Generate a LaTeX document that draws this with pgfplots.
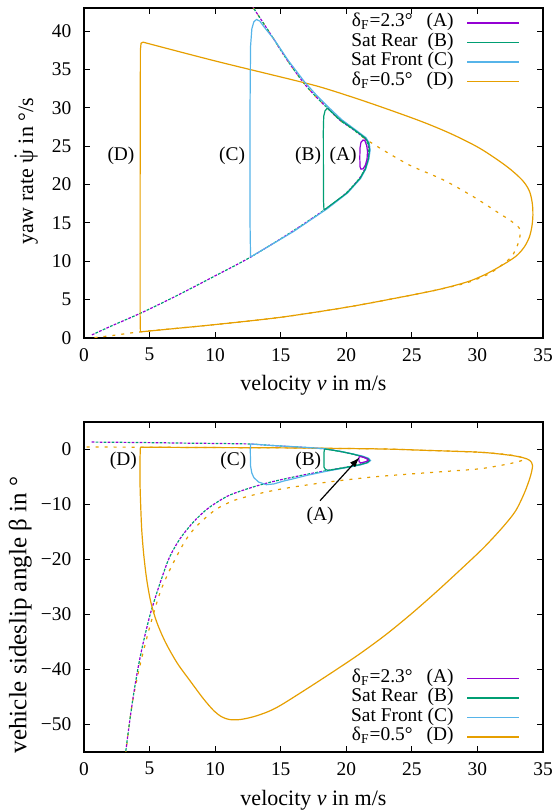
\documentclass[border=0pt]{standalone}
\usepackage{fontspec}
\setmainfont{Liberation Serif}
\usepackage{amsmath}
\usepackage{pgfplots}
\pgfplotsset{compat=1.18}
\usetikzlibrary{arrows.meta}

\definecolor{cA}{RGB}{148,0,211}
\definecolor{cB}{RGB}{0,158,115}
\definecolor{cC}{RGB}{86,180,233}
\definecolor{cD}{RGB}{230,159,0}

\pgfplotsset{
  gp/.style={
    scale only axis, width=229.5pt, height=165pt,
    xmin=0, xmax=35, xtick={0,5,...,35},
    axis line style={line width=1pt},
    every tick/.style={black, line width=0.5pt},
    major tick length=2.8pt,
    tick align=inside, xtick pos=both, ytick pos=both,
    /pgf/number format/assume math mode=true,
    font=\fontsize{9.7}{11.6}\selectfont,
    xticklabel style={yshift=-1.6pt},
    yticklabel style={xshift=-2.8pt},
    xlabel={velocity \textit{v} in m/s},
    label style={font=\fontsize{11}{13}\selectfont},
    legend cell align=right, legend plot pos=right,
    legend image code/.code={\draw[#1, line width=0.75pt] (0pt,0pt) -- (26pt,0pt);},
    legend style={draw=none, fill=none, inner sep=0pt, outer sep=0pt,
      column sep=6.5pt,
      nodes={inner sep=0pt, text height=6.8pt, text depth=2.95pt}},
  },
  dA/.style={cA, line width=0.6pt, dash pattern=on 1.4pt off 2.6pt},
  dB/.style={cB, line width=0.6pt, dash pattern=on 1.4pt off 2.6pt, dash phase=2pt},
  dD/.style={cD, line width=0.6pt, dash pattern=on 1.5pt off 3pt},
  sA/.style={cA, line width=0.6pt},
  sB/.style={cB, line width=0.6pt},
  sC/.style={cC, line width=0.6pt},
  sD/.style={cD, line width=0.6pt},
}

\begin{document}
\begin{tikzpicture}
\useasboundingbox (-42pt,-30pt) rectangle (235.5pt,376pt);

% ---------------- yaw rate ----------------
\begin{axis}[gp, at={(0,207pt)}, anchor=south west,
    ymin=0, ymax=43, ytick={0,5,...,40},
    ylabel={yaw rate $\dot{\text{ψ}}$ in °/s},
    ylabel style={at={(axis description cs:-0.126,0.506)}, anchor=center},
    xlabel style={at={(axis description cs:0.5,-0.142)}, anchor=center},
    legend style={at={(axis description cs:0.95,0.984)}, anchor=north east},
  ]
\addlegendimage{sA}\addlegendentry{δ\textsubscript{F}=2.3°\hspace{7pt}(A)}
\addlegendimage{sB}\addlegendentry{Sat Rear\hspace{5pt}(B)}
\addlegendimage{sC}\addlegendentry{Sat Front (C)}
\addlegendimage{sD}\addlegendentry{δ\textsubscript{F}=0.5°\hspace{7pt}(D)}

\addplot[dD, smooth, forget plot] coordinates {
 (0.8,0.05) (2.5,0.4) (4.3,0.8) (10,1.75) (15,2.7) (20,4.0) (24.1,5.3) (27,6.3)
 (29.2,7.2) (30.8,8.3) (31.7,9.3) (32.6,10.6) (33.1,12.3) (33.26,14.1) (32.6,15.2)
 (31.7,16.2) (29.7,18.4) (27.4,20.6) (25.1,22.3) (24.1,23.2) (22.7,24.6) (21.4,26.0)
 (20.5,27.2) (19.5,28.4) (18.6,29.9) (17.6,31.6) (16.7,33.35) (15.5,36.2) (14.3,39.4)
 (13.0,42.8) (12.92,43.0)};
\addplot[dB, smooth, forget plot] coordinates {
 (0.6,0.4) (2,1.5) (4.4,3.3) (7,5.45) (10,8.1) (12.66,10.5) (15.9,13.9) (18.5,16.9)
 (20,18.9) (21.0,20.8) (21.4,22.0) (21.65,23.3) (21.72,24.5) (21.6,25.4) (21.4,26.0)
 (20.5,27.2) (19.5,28.4) (18.6,29.9) (17.6,31.6) (16.7,33.35) (15.5,36.2) (14.3,39.4)
 (13.0,42.8) (12.92,43.0)};
\addplot[dA, smooth, forget plot] coordinates {
 (0.6,0.4) (2,1.5) (4.4,3.3) (7,5.45) (10,8.1) (12.66,10.5) (15.9,13.9) (18.5,16.9)
 (20,18.9) (21.0,20.8) (21.4,22.0) (21.65,23.3) (21.72,24.5) (21.6,25.4) (21.4,26.0)
 (20.5,27.2) (19.5,28.4) (18.6,29.9) (17.6,31.6) (16.7,33.35) (15.5,36.2) (14.3,39.4)
 (13.0,42.8) (12.92,43.0)};
\addplot[sD, forget plot] coordinates {
 (4.3,0.8) (4.28,3) (4.28,20) (4.3,37.5) (4.35,38.4) (4.5,38.55)};
\addplot[sD, smooth, forget plot] coordinates {
 (4.5,38.55) (10,36.1) (16.7,33.3)
 (18.8,32.3) (22,30.5) (25.6,28.3) (28,26.6) (30.2,24.7) (32.2,22.4) (33.4,20.6)
 (33.95,19.2) (34.18,17.6) (34.23,16.0) (34.15,14.5) (33.95,13.1) (33.55,11.8)
 (32.9,10.6) (31.7,9.3) (30.5,8.2) (29.2,7.3) (27,6.3) (24.1,5.3)
 (20,4.0) (15,2.7) (10,1.75) (4.3,0.8)};
\addplot[sC, forget plot] coordinates {
 (12.7,10.55) (12.66,15) (12.66,30) (12.7,38) (12.8,40.3) (12.95,41.2) (13.15,41.5)
 (13.4,41.3) (13.7,40.6) (14.5,38.9) (15.6,36.1) (16.85,33.3) (17.8,31.5) (18.75,29.9)
 (19.65,28.45) (20.6,27.25) (21.5,26.1) (21.75,25.4) (21.82,24.5) (21.72,23.3)
 (21.48,22.0) (21.1,20.8) (20.1,18.9) (18.55,16.85) (15.95,13.85) (12.7,10.55)};
\addplot[sB, forget plot] coordinates {
 (18.3,16.67) (18.26,18) (18.25,27) (18.28,28.9) (18.38,29.6) (18.55,29.95)
 (19.55,28.4) (20.55,27.2) (21.45,26.05) (21.7,25.4) (21.77,24.5) (21.68,23.3)
 (21.45,22.0) (21.05,20.8) (20.05,18.9) (18.3,16.67)};
\addplot[sA, forget plot] coordinates {
 (21.05,22.3) (21.03,23.5) (21.05,24.8) (21.12,25.5) (21.28,25.8) (21.42,25.7)
 (21.55,25.1) (21.62,24.3) (21.58,23.3) (21.45,22.5) (21.28,22.05) (21.12,22.0)
 (21.05,22.3)};

\node at (axis cs:2.82,23.8) {(D)};
\node at (axis cs:11.29,23.8) {(C)};
\node at (axis cs:17.09,23.8) {(B)};
\node at (axis cs:19.76,23.8) {(A)};
\end{axis}

% ---------------- sideslip ----------------
\begin{axis}[gp, at={(0,0)}, anchor=south west,
    ymin=-55, ymax=5, ytick={-50,-40,...,0},
    yticklabels={−50,−40,−30,−20,−10,0},
    ylabel={vehicle sideslip angle β in °},
    ylabel style={at={(axis description cs:-0.139,0.415)}, anchor=center,
      font=\fontsize{12.5}{14}\selectfont},
    xlabel style={at={(axis description cs:0.5,-0.145)}, anchor=center},
    legend style={at={(axis description cs:0.95,0.016)}, anchor=south east},
  ]
\addlegendimage{sA}\addlegendentry{δ\textsubscript{F}=2.3°\hspace{7pt}(A)}
\addlegendimage{sB}\addlegendentry{Sat Rear\hspace{5pt}(B)}
\addlegendimage{sC}\addlegendentry{Sat Front (C)}
\addlegendimage{sD}\addlegendentry{δ\textsubscript{F}=0.5°\hspace{7pt}(D)}

\addplot[dD, smooth, forget plot] coordinates {
 (0.2,0.45) (4.3,0.42) (10,0.35) (15,0.3) (19,0.2) (22.6,0.1) (26,-0.15) (28.5,-0.35)
 (30.2,-0.5) (31.8,-0.8) (32.8,-1.1) (33.4,-1.45) (33.55,-1.8) (33.2,-2.15) (32.2,-2.7)
 (30.2,-3.5) (27.5,-4.0) (24.9,-4.45) (22,-5.0) (19,-5.8) (17,-6.45) (15,-7.2)
 (13.2,-8.1) (11.4,-9.3) (10,-11.0) (8.6,-13.9) (7.8,-16.3) (7.07,-19.4) (6.4,-22.6)
 (5.8,-26) (5.16,-31) (4.6,-36) (4.15,-40.5) (3.75,-45.2) (3.45,-50) (3.2,-55)};
\addplot[dB, smooth, forget plot] coordinates {
 (0.58,1.35) (3,1.3) (5,1.25) (8,1.15) (10,1.1) (12.66,1.0) (14.2,0.75) (15.5,0.55)
 (17,0.35) (18.4,0.1) (19.5,-0.35) (20.5,-0.85) (21.2,-1.3) (21.6,-1.7) (21.72,-2.0)
 (21.55,-2.35) (21.0,-2.7) (20,-3.2) (18.5,-3.84) (16.8,-4.6) (15.2,-5.4) (14.2,-5.95)
 (13.2,-6.6) (12.2,-7.35) (11.1,-8.3) (10.2,-9.5) (9.3,-11.0) (8.3,-13.3) (7.3,-16.3)
 (6.5,-19.7) (5.9,-23.6) (5.4,-27.2) (5.0,-30.4) (4.5,-35.3) (4.1,-40) (3.75,-45)
 (3.45,-50) (3.18,-55)};
\addplot[dA, smooth, forget plot] coordinates {
 (0.58,1.35) (3,1.3) (5,1.25) (8,1.15) (10,1.1) (12.66,1.0) (14.2,0.75) (15.5,0.55)
 (17,0.35) (18.4,0.1) (19.5,-0.35) (20.5,-0.85) (21.2,-1.3) (21.6,-1.7) (21.72,-2.0)
 (21.55,-2.35) (21.0,-2.7) (20,-3.2) (18.5,-3.84) (16.8,-4.6) (15.2,-5.4) (14.2,-5.95)
 (13.2,-6.6) (12.2,-7.35) (11.1,-8.3) (10.2,-9.5) (9.3,-11.0) (8.3,-13.3) (7.3,-16.3)
 (6.5,-19.7) (5.9,-23.6) (5.4,-27.2) (5.0,-30.4) (4.5,-35.3) (4.1,-40) (3.75,-45)
 (3.45,-50) (3.18,-55)};
\addplot[sD, smooth, forget plot] coordinates {
 (4.3,0.42) (4.27,-2) (4.27,-6) (4.32,-10) (4.4,-14.5) (4.55,-19) (4.78,-23.6)
 (5.1,-27.8) (5.55,-31.4) (6.2,-35) (7.1,-38.8) (8.1,-42.1) (9.1,-45.3)
 (9.9,-47.5) (10.5,-48.6) (11.1,-49.1) (11.9,-49.1) (12.9,-48.6) (14.0,-47.7)
 (15.0,-46.5) (17,-43.5) (19,-40.4) (21,-37.2) (23,-33.7) (25,-29.8) (27,-25.6)
 (29,-21.2) (30.5,-17.8) (31.9,-14.2) (32.9,-11.2) (33.6,-7.8) (34.05,-4.8)
 (34.2,-2.9) (34.0,-2.0) (33.5,-1.5) (32.5,-1.05) (30.2,-0.5) (26,-0.15)
 (22.6,0.1) (15,0.3) (10,0.35) (4.3,0.42)};
\addplot[sC, forget plot] coordinates {
 (12.7,1.0) (12.68,0) (12.7,-3) (12.8,-4.3) (12.95,-5.1) (13.3,-5.9) (13.9,-6.4)
 (14.5,-6.25) (15.2,-5.75) (16,-5.3) (17,-4.7) (18.5,-3.95) (20,-3.3) (21.1,-2.8)
 (21.65,-2.4) (21.85,-2.0) (21.7,-1.6) (21.25,-1.2) (20.5,-0.8) (19.5,-0.3)
 (18.4,0.13) (17,0.38) (15.5,0.58) (14.2,0.75) (12.7,1.0)};
\addplot[sB, forget plot] coordinates {
 (18.35,0.1) (18.3,-0.5) (18.3,-3.2) (18.4,-3.6) (18.6,-3.8) (20,-3.25) (21.05,-2.75)
 (21.6,-2.38) (21.77,-2.0) (21.65,-1.65) (21.2,-1.27) (20.5,-0.83) (19.5,-0.33)
 (18.35,0.1)};
\addplot[sA, forget plot] coordinates {
 (21.0,-1.25) (21.35,-1.45) (21.62,-1.75) (21.68,-1.95) (21.5,-2.2) (21.1,-2.45)
 (20.98,-2.2) (20.95,-1.7) (21.0,-1.25)};

\draw[-{Latex[length=5pt,width=3.5pt]}, line width=0.6pt] (axis cs:18.0,-9.3) -- (axis cs:21.0,-1.45);
\node at (axis cs:18.0,-12.1) {(A)};
\node at (axis cs:3.0,-2.0) {(D)};
\node at (axis cs:11.39,-2.0) {(C)};
\node at (axis cs:17.1,-2.0) {(B)};
\end{axis}
\end{tikzpicture}
\end{document}
